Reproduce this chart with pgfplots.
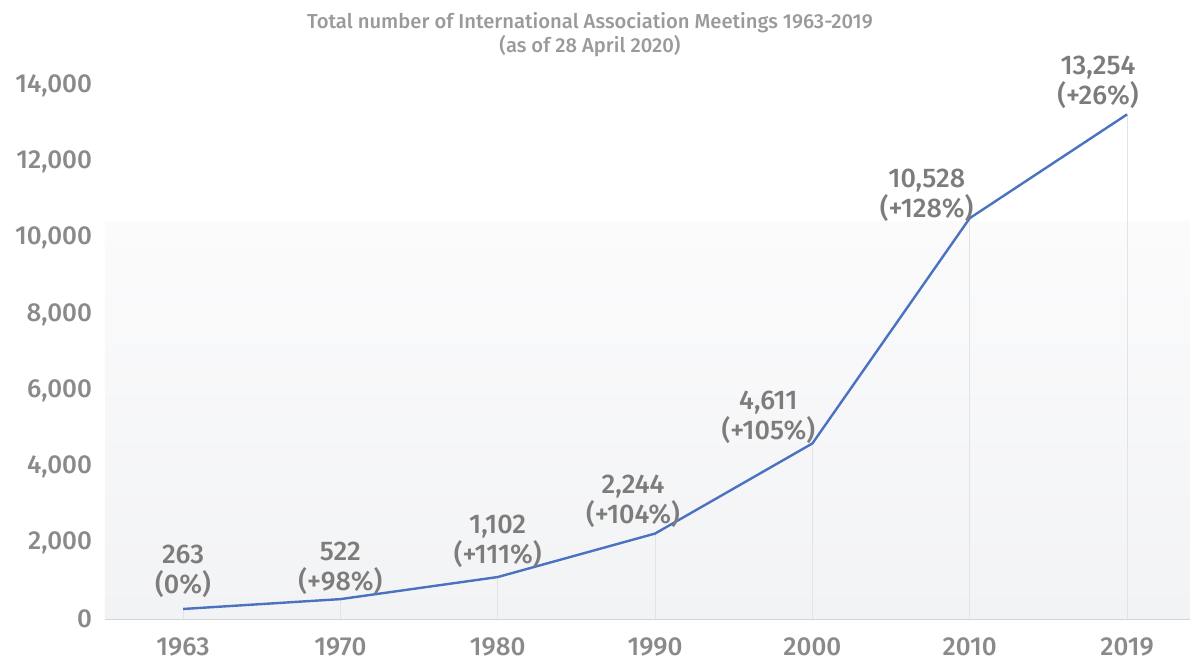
\documentclass[border=0pt]{standalone}
\usepackage{pgfplots}
\pgfplotsset{compat=1.18}
\usepackage{fontspec}
\setmainfont{Fira Sans}[UprightFont=* Medium]
\definecolor{tick}{HTML}{8A8A8C}
\definecolor{lab}{HTML}{7E7C7A}
\definecolor{ttl}{HTML}{9A9A9C}
\definecolor{lineblue}{HTML}{4A72C0}
\definecolor{bgbot}{HTML}{F2F3F5}
\definecolor{bgtop}{HTML}{FBFBFC}
\definecolor{grid}{HTML}{E2E3E6}
\definecolor{axline}{HTML}{D4D5D8}
\begin{document}
\begin{tikzpicture}
\begin{axis}[
  at={(0,0)}, anchor=south west,
  scale only axis,
  width=542.5pt, height=266.5pt,
  xmin=-0.496, xmax=6.40,
  ymin=0, ymax=14000,
  clip=false,
  scaled y ticks=false,
  axis x line=bottom, axis y line=left,
  x axis line style={-, draw=axline},
  y axis line style={draw=none},
  xtick={0,1,2,3,4,5,6},
  xticklabels={1963,1970,1980,1990,2000,2010,2019},
  ytick={0,2000,4000,6000,8000,10000,12000,14000},
  yticklabels={0,{2,000},{4,000},{6,000},{8,000},{10,000},{12,000},{14,000}},
  major tick length=0pt,
  xticklabel style={font=\fontsize{13}{15}\selectfont, text=tick, anchor=north, inner sep=0pt, yshift=-9pt},
  yticklabel style={font=\fontsize{13}{16}\selectfont, text=tick, anchor=east, xshift=-3pt},
]
\fill[top color=bgtop, bottom color=bgbot] (axis cs:-0.496,0) rectangle (axis cs:6.40,10450);
\addplot[ycomb, draw=grid, line width=0.5pt, mark=none] coordinates {
 (0,263) (1,522) (2,1102) (3,2244) (4,4611) (5,10528) (6,13254)};
\addplot[draw=lineblue, line width=1.2pt, mark=none] coordinates {
 (0,263) (1,522) (2,1102) (3,2244) (4,4611) (5,10528) (6,13254)};
\begin{scope}[every node/.style={font=\fontsize{13.5}{15}\selectfont, text=lab, align=center, anchor=south}]
\node at ([yshift=2pt]axis cs:0,263) {263\\(0\%)};
\node at ([yshift=-1.5pt]axis cs:1,522) {522\\(+98\%)};
\node at ([yshift=1pt]axis cs:2,1102) {1,102\\(+111\%)};
\node at ([xshift=-11pt,yshift=-0.5pt]axis cs:3,2244) {2,244\\(+104\%)};
\node at ([xshift=-22pt,yshift=-3.5pt]axis cs:4,4611) {4,611\\(+105\%)};
\node at ([xshift=-21.5pt,yshift=-5pt]axis cs:5,10528) {10,528\\(+128\%)};
\node at ([xshift=-14.5pt,yshift=-0.5pt]axis cs:6,13254) {13,254\\(+26\%)};
\end{scope}
\end{axis}
\node[font=\fontsize{10.1}{12}\selectfont, text=ttl, align=center] at (242.5pt,292pt) {Total number of International Association Meetings 1963-2019\\(as of 28 April 2020)};
\pgfresetboundingbox
\path[use as bounding box] (-52.5pt,-22.5pt) rectangle (542.5pt,309.5pt);
\end{tikzpicture}
\end{document}
